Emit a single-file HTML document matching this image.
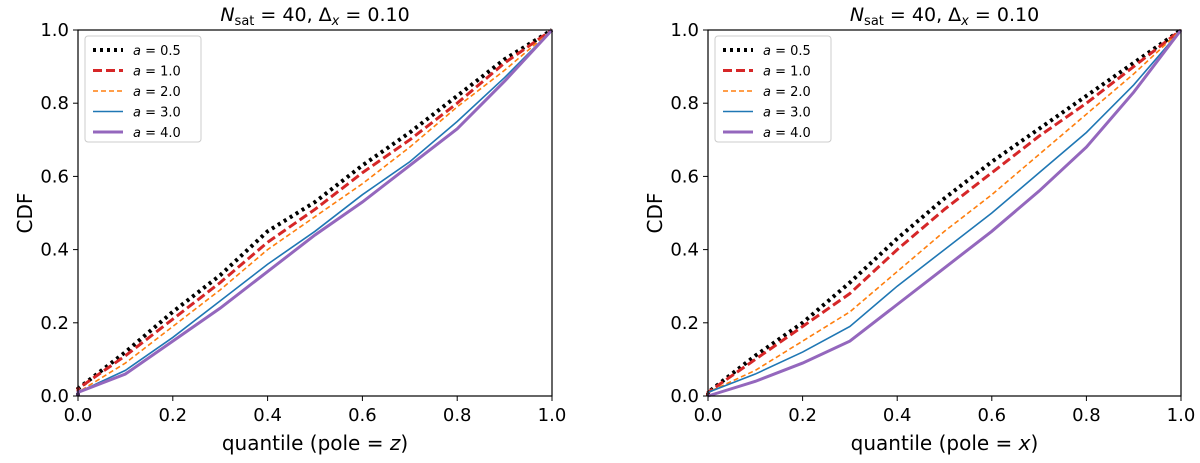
<!DOCTYPE html>
<html><head><meta charset="utf-8">
<style>
body{margin:0;background:#fff;}
svg text{font-family:"DejaVu Sans","Liberation Sans",sans-serif;}
</style></head>
<body>
<svg id="chart" width="1200" height="458" viewBox="0 0 1200 458" xmlns="http://www.w3.org/2000/svg"></svg>
<script>
const quantiles=[0,0.1,0.2,0.3,0.4,0.5,0.6,0.7,0.8,0.9,1.0];
const seriesLabels=["0.5","1.0","2.0","3.0","4.0"];
const leftBlack=[0.02,.12,.23,.33,.45,.53,.63,.72,.82,.92,1];
const leftRed=[0.02,.11,.21,.31,.42,.51,.61,.70,.80,.91,1];
const leftOrange=[0.01,.09,.19,.29,.40,.49,.58,.68,.79,.89,1];
const leftBlue=[0.01,.07,.16,.26,.36,.45,.55,.64,.75,.87,1];
const leftPurple=[0.01,.06,.15,.24,.34,.44,.53,.63,.73,.86,1];
const rightBlack=[0.01,.11,.20,.31,.43,.54,.64,.73,.82,.91,1];
const rightRed=[0.01,.10,.19,.28,.40,.51,.61,.71,.80,.90,1];
const rightOrange=[0.01,.07,.15,.23,.34,.45,.55,.66,.77,.88,1];
const rightBlue=[0.01,.06,.12,.19,.30,.40,.50,.61,.72,.85,1];
const rightPurple=[0,.04,.09,.15,.25,.35,.45,.56,.68,.83,1];
const tickLabels=["0.0","0.2","0.4","0.6","0.8","1.0"];
const styles=[
 {c:"#000",w:4,d:"3,4"},
 {c:"#d62728",w:3,d:"9,4"},
 {c:"#ff7f0e",w:1.6,d:"5,3"},
 {c:"#1f77b4",w:1.6,d:""},
 {c:"#9467bd",w:3,d:""}];
const NS="http://www.w3.org/2000/svg";
const svg=document.getElementById("chart");
function mk(t,a,p){const e=document.createElementNS(NS,t);for(const k in a)e.setAttribute(k,a[k]);(p||svg).appendChild(e);return e;}
function panel(x0,x1,y0,y1,data,poleVar,id){
 const g=mk("g",{});
 
 
 const sx=v=>x0+(x1-x0)*v, sy=v=>y0-(y0-y1)*v;
 data.forEach((arr,i)=>{
  let d="M"+sx(0)+","+sy(0);
  for(let k=0;k<quantiles.length;k++){d+=" L"+sx(quantiles[k])+","+sy(arr[k]);}
  const p=mk("path",{d:d,fill:"none",stroke:styles[i].c,"stroke-width":styles[i].w,"stroke-dasharray":styles[i].d},g);
  
  
 });
 const fr=mk("rect",{x:x0,y:y1,width:x1-x0,height:y0-y1,fill:"none",stroke:"#000","stroke-width":1.2},g);
 
 
 tickLabels.forEach((t,i)=>{
  const v=i/5;
  mk("line",{x1:sx(v),x2:sx(v),y1:y0,y2:y0+5,stroke:"#000"},g);
  const tx=mk("text",{x:sx(v),y:y0+25,"font-size":18,"text-anchor":"middle"},g);tx.textContent=t;
  
  
  mk("line",{x1:x0-5,x2:x0,y1:sy(v),y2:sy(v),stroke:"#000"},g);
  const ty=mk("text",{x:x0-9,y:sy(v)+6,"font-size":18,"text-anchor":"end"},g);ty.textContent=t;
  
  
 });
 const xl=mk("text",{x:(x0+x1)/2,y:y0+54,"font-size":20,"text-anchor":"middle"},g);
 xl.innerHTML='quantile (pole = <tspan font-style="italic">'+poleVar+'</tspan>)';
 
 
 const yl=mk("text",{x:0,y:0,"font-size":20,"text-anchor":"middle",transform:"translate("+(x0-46)+","+((y0+y1)/2)+") rotate(-90)"},g);
 yl.textContent="CDF";
 
 
 const tt=mk("text",{x:(x0+x1)/2,y:y1-9,"font-size":19,"text-anchor":"middle"},g);
 tt.innerHTML='<tspan font-style="italic">N</tspan><tspan font-size="13" dy="4">sat</tspan><tspan dy="-4"> = 40, Δ</tspan><tspan font-size="13" dy="4" font-style="italic">x</tspan><tspan dy="-4"> = 0.10</tspan>';
 
 
 const lg=mk("g",{},g);
 
 
 mk("rect",{x:x0+7,y:y1+6,width:116,height:106,rx:3,fill:"#fff","fill-opacity":0.8,stroke:"#ccc"},lg);
 seriesLabels.forEach((s,i)=>{
  const yy=y1+20+i*20.5;
  mk("line",{x1:x0+15,x2:x0+45,y1:yy,y2:yy,stroke:styles[i].c,"stroke-width":styles[i].w,"stroke-dasharray":styles[i].d},lg);
  const lt=mk("text",{x:x0+55,y:yy+5,"font-size":13},lg);
  lt.innerHTML='<tspan font-style="italic">a</tspan> = '+s;
  
  
 });
}
panel(78,552,396,30,[leftBlack,leftRed,leftOrange,leftBlue,leftPurple],"z","left-panel");
panel(708,1181,396,30,[rightBlack,rightRed,rightOrange,rightBlue,rightPurple],"x","right-panel");
</script>
</body></html>
